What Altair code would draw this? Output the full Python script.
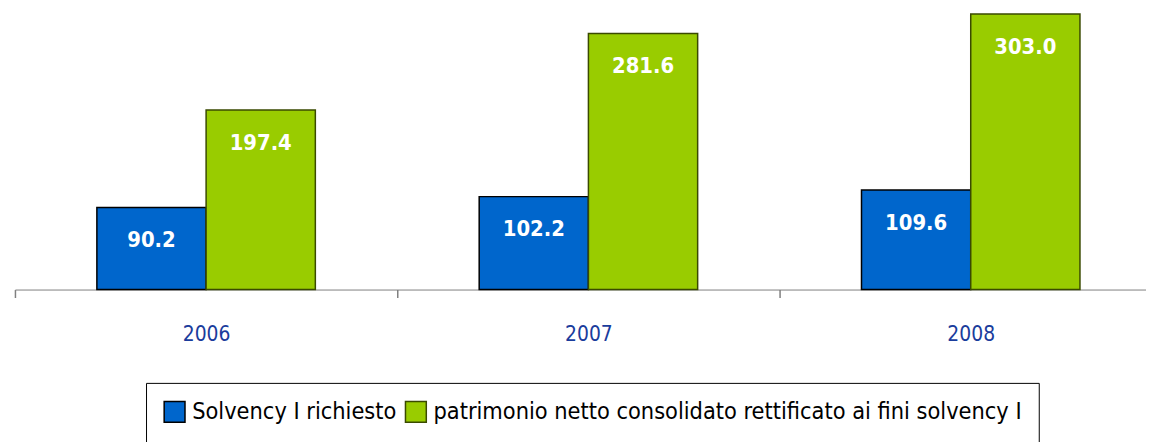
import altair as alt
import pandas as pd

years = ["2006", "2007", "2008"]
series_names = ["Solvency I richiesto",
                "patrimonio netto consolidato rettificato ai fini solvency I"]
solvency = [90.2, 102.2, 109.6]
patrimonio = [197.4, 281.6, 303.0]

rows = []
for i, y in enumerate(years):
    rows.append({"anno": y, "serie": series_names[0], "valore": solvency[i]})
    rows.append({"anno": y, "serie": series_names[1], "valore": patrimonio[i]})
df = pd.DataFrame(rows)

NARROW = "Liberation Sans Narrow, DejaVu Sans Condensed, Arial Narrow, sans-serif"

x_enc = alt.X("anno:N", title=None,
              scale=alt.Scale(paddingInner=0, paddingOuter=0),
              axis=alt.Axis(tickBand="extent", domainColor="#808080", tickColor="#808080",
                            tickSize=8, tickWidth=1.5, domainWidth=1, labelAngle=0,
                            labelFontSize=21, labelFont=NARROW, labelColor="#1a3c9c",
                            labelPadding=26))
xo_enc = alt.XOffset("serie:N", sort=series_names,
                     scale=alt.Scale(paddingInner=0, paddingOuter=0.75))
y_enc = alt.Y("valore:Q", scale=alt.Scale(domain=[0, 308], nice=False), axis=None)

bars = alt.Chart(df).mark_bar(strokeWidth=1.5).encode(
    x=x_enc, xOffset=xo_enc, y=y_enc,
    fill=alt.Fill("serie:N", sort=series_names,
                  scale=alt.Scale(domain=series_names, range=["#0066CC", "#99CC00"]),
                  legend=alt.Legend(title=None, orient="none", legendX=132, legendY=376,
                                    direction="horizontal", fillColor="white",
                                    strokeColor="black", padding=17,
                                    symbolType="square", symbolSize=440,
                                    symbolStrokeWidth=1.5,
                                    labelFontSize=23.5, labelFont=NARROW, labelColor="black",
                                    labelLimit=1000, columnPadding=5, labelOffset=6)),
    stroke=alt.Stroke("serie:N", sort=series_names,
                      scale=alt.Scale(domain=series_names, range=["#000000", "#3a4a00"]),
                      legend=None),
)

labels = alt.Chart(df).mark_text(baseline="middle", dy=33, color="white",
                                 fontWeight="bold", fontSize=22, font=NARROW).encode(
    x=alt.X("anno:N"), xOffset=alt.XOffset("serie:N", sort=series_names),
    y=alt.Y("valore:Q"),
    text=alt.Text("valore:Q", format=".1f"),
)

chart = alt.layer(bars, labels).properties(
    width=1155, height=282,
    autosize=alt.AutoSizeParams(type="none"),
    padding={"left": 7, "top": 0, "right": -16, "bottom": 152},
).configure_view(stroke=None)

chart.save("out.html", embed_options={"renderer": "svg", "actions": False})
